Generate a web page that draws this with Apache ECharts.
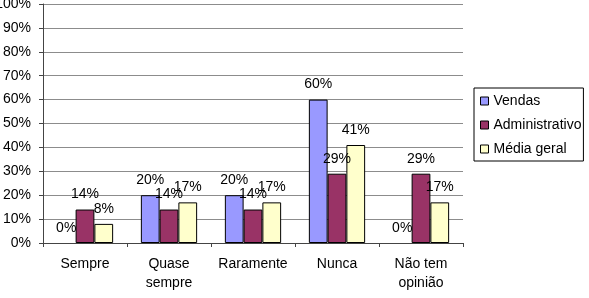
<!DOCTYPE html>
<html>
<head>
<meta charset="utf-8">
<script src="https://cdn.jsdelivr.net/npm/echarts@6/dist/echarts.min.js"></script>
<style>
  html, body { margin: 0; padding: 0; background: #fff; }
  #chart { width: 589px; height: 298px; }
</style>
</head>
<body>
<div id="chart"></div>
<script>
  // categorias e valores (%)
  var categorias = ['Sempre', 'Quase\nsempre', 'Raramente', 'Nunca', 'Não tem\nopinião'];
  var vendas = [0, 20, 20, 60, 0];
  var administrativo = [14, 14, 14, 29, 29];
  var mediaGeral = [8, 17, 17, 41, 17];

  var fonte = 'Liberation Sans, Arial, sans-serif';
  var myChart = echarts.init(document.getElementById('chart'));

  function serie(nome, dados, cor) {
    // barras com valor 0 ficam sem borda (só o rótulo aparece)
    var itens = dados.map(function (v) {
      return v === 0 ? { value: v, itemStyle: { borderWidth: 0 } } : v;
    });
    return {
      type: 'bar',
      name: nome,
      data: itens,
      barGap: '0%',
      barCategoryGap: '33%',
      itemStyle: { color: cor, borderColor: '#000', borderWidth: 1 },
      label: {
        show: true,
        position: 'top',
        distance: 8,
        formatter: '{c}%',
        color: '#000',
        fontFamily: fonte,
        fontSize: 14
      }
    };
  }

  var option = {
    animation: false,
    grid: { left: 43, right: 126, top: 4, bottom: 55, containLabel: false, outerBoundsMode: 'none' },
    legend: {
      orient: 'vertical',
      left: 474,
      top: 88,
      padding: [5, 2, 4, 6],
      itemGap: 8,
      itemWidth: 8,
      itemHeight: 8,
      icon: 'rect',
      borderColor: '#000',
      borderWidth: 1,
      textStyle: { fontFamily: fonte, fontSize: 14, color: '#000', lineHeight: 16 },
      itemStyle: { borderColor: '#000', borderWidth: 1 },
      data: ['Vendas', 'Administrativo', 'Média geral']
    },
    xAxis: {
      type: 'category',
      data: categorias,
      axisLine: { lineStyle: { color: '#444' } },
      axisTick: { show: true, length: 4, lineStyle: { color: '#444' } },
      axisLabel: { interval: 0, color: '#000', fontFamily: fonte, fontSize: 14, margin: 12, lineHeight: 19 }
    },
    yAxis: {
      type: 'value',
      min: 0,
      max: 100,
      interval: 10,
      axisLine: { show: true, lineStyle: { color: '#444' } },
      axisTick: { show: true, length: 4, lineStyle: { color: '#444' } },
      splitLine: { lineStyle: { color: '#8c8c8c' } },
      axisLabel: { formatter: '{value}%', color: '#000', fontFamily: fonte, fontSize: 14, margin: 12 }
    },
    series: [
      serie('Vendas', vendas, '#9999ff'),
      serie('Administrativo', administrativo, '#993366'),
      serie('Média geral', mediaGeral, '#ffffcc')
    ]
  };

  myChart.setOption(option);
</script>
</body>
</html>
